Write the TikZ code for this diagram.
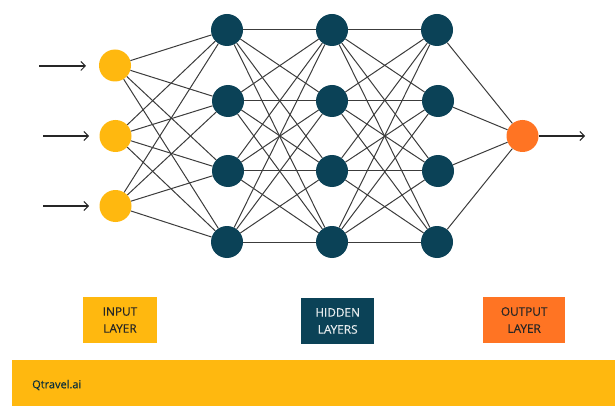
\documentclass[tikz,border=0pt]{standalone}
\usepackage{fontspec}
\setmainfont[FakeBold=0.25]{Open Sans}
\newfontfamily\labelfont[FakeStretch=1.0,FakeBold=0.3]{Open Sans}
\usetikzlibrary{arrows.meta}
\definecolor{qyellow}{HTML}{FFB80F}
\definecolor{qteal}{HTML}{0B4257}
\definecolor{qorange}{HTML}{FF7423}
\definecolor{qline}{HTML}{3C3C3C}
\begin{document}
\begin{tikzpicture}[x=1pt,y=-1pt,
  neuron/.style={circle,inner sep=0pt,minimum size=32pt},
  inneuron/.style={neuron,fill=qyellow},
  hidneuron/.style={neuron,fill=qteal},
  outneuron/.style={neuron,fill=qorange},
  edge/.style={draw=qline,line width=1pt},
  flow/.style={draw=black!85,line width=1.1pt,-{Straight Barb[length=4.5pt,width=9pt,line width=1pt]}},
  legend/.style={inner sep=0pt,font=\labelfont\fontsize{11.8}{17}\selectfont,align=center},
]
\useasboundingbox (0,0) rectangle (615,406);
\fill[qyellow] (12,360) rectangle (615,406);
\node[font=\labelfont\fontsize{11}{12}\selectfont,text=qteal!70!black,anchor=west,inner sep=0pt] (brand) at (32,385) {Qtravel.ai};

\node[inneuron] (i1) at (115,65.5) {};
\node[inneuron] (i2) at (115.5,136) {};
\node[inneuron] (i3) at (115.5,206) {};

\node[hidneuron] (a1) at (227,30) {};
\node[hidneuron] (a2) at (228,101) {};
\node[hidneuron] (a3) at (228,171) {};
\node[hidneuron] (a4) at (227,242) {};
\node[hidneuron] (b1) at (332,30) {};
\node[hidneuron] (b2) at (332,101) {};
\node[hidneuron] (b3) at (332,171) {};
\node[hidneuron] (b4) at (332,242) {};
\node[hidneuron] (c1) at (437,30) {};
\node[hidneuron] (c2) at (438,101) {};
\node[hidneuron] (c3) at (438,171) {};
\node[hidneuron] (c4) at (437,242) {};

\node[outneuron] (o) at (522.5,136) {};

\foreach \s in {i1,i2,i3}
  \foreach \t in {a1,a2,a3,a4}
    \draw[edge] (\s) -- (\t);
\foreach \s in {a1,a2,a3,a4}
  \foreach \t in {b1,b2,b3,b4}
    \draw[edge] (\s) -- (\t);
\foreach \s in {b1,b2,b3,b4}
  \foreach \t in {c1,c2,c3,c4}
    \draw[edge] (\s) -- (\t);
\foreach \s in {c1,c2,c3,c4}
  \draw[edge] (\s) -- (o);

\coordinate (s1) at (39,66);
\coordinate (s2) at (43,136);
\coordinate (s3) at (43,206);
\coordinate (t1) at (86,66);
\coordinate (t2) at (89,136);
\coordinate (t3) at (89,206);
\coordinate (e2) at (585,136);
\draw[flow] (s1) -- (t1);
\draw[flow] (s2) -- (t2);
\draw[flow] (s3) -- (t3);
\draw[flow] (o) -- (e2);

\node[legend,fill=qyellow,minimum width=74pt,minimum height=46pt,text=black!85] (li) at (120,320) {INPUT\\LAYER};
\node[legend,fill=qteal,minimum width=73.5pt,minimum height=46pt,text=white!90!qteal] (lh) at (337.7,321) {HIDDEN\\LAYERS};
\node[legend,fill=qorange,minimum width=81.5pt,minimum height=46pt,text=black!85] (lo) at (524.2,320) {OUTPUT\\LAYER};
\end{tikzpicture}
\end{document}
